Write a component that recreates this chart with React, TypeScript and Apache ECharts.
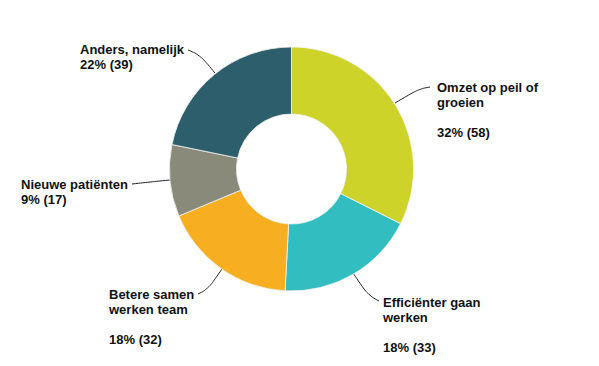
import React, { useEffect, useRef } from "react";
import * as echarts from "echarts";

const categories = [
  "Omzet op peil of\ngroeien",
  "Efficiënter gaan\nwerken",
  "Betere samen\nwerken team",
  "Nieuwe patiënten",
  "Anders, namelijk",
];
const values = [58, 33, 32, 17, 39];
const colors = ["#cdd329", "#32bec0", "#f7af21", "#8a8a7a", "#2c5e6b"];
const blankLineBefore = [true, true, true, false, false];

// label anchor (left/top) and leader line points per slice
const labelPos = [
  [437, 80],
  [383, 294.5],
  [109, 286.5],
  [21, 176.5],
  [80, 41.5],
];
const linePts = [
  [[395, 103], [419, 89], [430, 87]],
  [[353, 273], [368, 295], [379, 301]],
  [[222, 269], [208, 289], [198, 294]],
  [[170, 180], [150, 182], [132, 184]],
  [[215, 73], [200, 55], [188, 50]],
];

export default function App() {
  const ref = useRef<HTMLDivElement>(null);
  useEffect(() => {
    document.body.style.margin = "0";
    const chart = echarts.init(ref.current!, null, { renderer: "svg" });
    const total = values.reduce((a, b) => a + b, 0);
    chart.setOption({
      animation: false,
      backgroundColor: "#ffffff",
      series: [
        {
          type: "pie",
          center: [291.5, 169],
          radius: [55, 122],
          startAngle: 90,
          clockwise: true,
          avoidLabelOverlap: false,
          itemStyle: { borderColor: "#f4f4f4", borderWidth: 0.8 },
          data: categories.map((c, i) => ({
            name: c,
            value: values[i],
            itemStyle: { color: colors[i] },
          })),
          label: {
            show: true,
            position: "outside",
            fontFamily: "Liberation Sans, Arial, sans-serif",
            fontWeight: "bold",
            fontSize: 13,
            lineHeight: 15,
            color: "#111111",
            align: "left",
            formatter: (p: any) => {
              const i = p.dataIndex;
              const pct = Math.round((values[i] / total) * 100);
              return `${categories[i]}\n${blankLineBefore[i] ? "\n" : ""}${pct}% (${values[i]})`;
            },
          },
          labelLine: {
            show: true,
            smooth: 0.4,
            lineStyle: { color: "#222222", width: 1 },
          },
          labelLayout: (params: any) => {
            const i = params.dataIndex;
            return {
              x: labelPos[i][0],
              y: labelPos[i][1],
              align: "left",
              verticalAlign: "top",
              labelLinePoints: linePts[i],
            };
          },
        },
      ],
    });
    return () => chart.dispose();
  }, []);
  return <div ref={ref} style={{ width: 599, height: 366 }} />;
}
